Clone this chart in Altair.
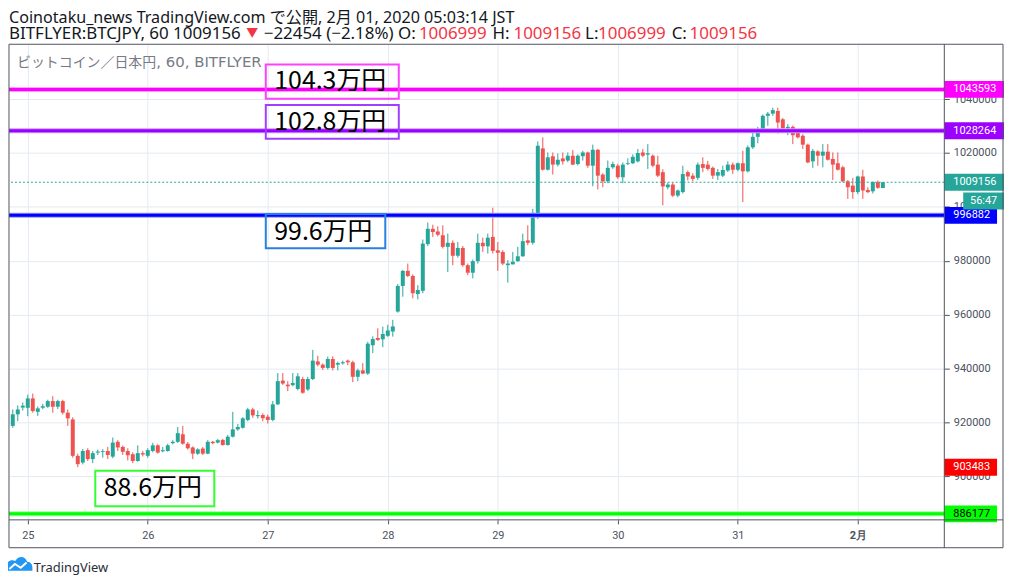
import json
import altair as alt
import pandas as pd

# ---------------- data ----------------
first_bar = -3  # bar index of the first candle (Jan 24 21:00)
opens = [918800, 923100, 925600, 925500, 929000, 924000, 925500, 925900, 928000, 925900, 928000, 923700, 921200, 907700, 905200, 909800, 906500, 908900, 909200, 909500, 907400, 912900, 911000, 909500, 908300, 905800, 908700, 907700, 909500, 911600, 909400, 909500, 912400, 912900, 915700, 912200, 910800, 908500, 910400, 908500, 912900, 912600, 913600, 911700, 914800, 917500, 918100, 921000, 924900, 922400, 922800, 922200, 921000, 926800, 935600, 934100, 933900, 932500, 936200, 932300, 936200, 942700, 941500, 940300, 943600, 941500, 942000, 943000, 942400, 937000, 939400, 938200, 948700, 951400, 950900, 952200, 953800, 961200, 970700, 976300, 974400, 967700, 968900, 986200, 991900, 990900, 989500, 985200, 986700, 981900, 984800, 978400, 975600, 979900, 986700, 985400, 988900, 983900, 983300, 978400, 978700, 979900, 981700, 987600, 986700, 997500, 1021700, 1013800, 1018800, 1015700, 1018000, 1017200, 1019000, 1015900, 1018800, 1020200, 1015300, 1021200, 1012000, 1009500, 1014700, 1015300, 1011000, 1015900, 1016200, 1016900, 1020200, 1019400, 1019000, 1015700, 1012900, 1007300, 1008300, 1004200, 1005500, 1012900, 1011600, 1010800, 1015900, 1015700, 1014500, 1011600, 1011600, 1013500, 1015700, 1013800, 1016200, 1013200, 1022100, 1026000, 1028200, 1033800, 1034600, 1035600, 1032500, 1029200, 1029700, 1027600, 1026400, 1023100, 1016900, 1020600, 1019000, 1020500, 1017800, 1016200, 1014700, 1009500, 1007900, 1005500, 1011300, 1006300, 1005800, 1009200, 1006999]
highs = [924900, 926400, 927500, 930400, 930800, 926000, 927000, 928500, 929800, 928500, 928500, 924900, 922000, 908500, 910200, 910500, 909500, 910000, 910200, 911000, 914500, 913500, 911500, 910500, 909000, 911600, 909500, 910500, 912500, 912000, 911000, 912200, 913500, 918400, 918800, 912800, 911200, 910500, 911000, 913500, 913200, 914000, 914000, 915500, 924000, 919500, 922000, 925500, 925500, 924500, 923500, 923000, 928000, 938400, 938400, 935400, 938400, 938400, 937000, 937000, 947000, 944800, 942000, 944500, 944600, 942700, 943000, 943400, 943000, 940000, 942100, 950000, 952000, 955000, 955600, 956300, 958100, 971400, 976600, 979000, 975000, 971000, 987900, 994200, 993400, 992800, 993200, 990100, 987600, 987000, 985500, 979000, 980500, 990100, 988600, 990100, 999700, 987000, 984000, 980300, 983300, 985200, 990100, 993200, 999300, 1024300, 1025800, 1020200, 1020200, 1019800, 1020200, 1020200, 1021100, 1019500, 1020800, 1020500, 1023100, 1021500, 1012500, 1017200, 1016800, 1016000, 1016500, 1018000, 1019500, 1021500, 1021500, 1023300, 1019500, 1019000, 1014000, 1009000, 1009000, 1006500, 1015300, 1013500, 1012500, 1016500, 1018400, 1017100, 1015000, 1014100, 1015300, 1016900, 1016500, 1016500, 1020800, 1022800, 1028000, 1029700, 1034300, 1035200, 1036800, 1036800, 1033000, 1030700, 1030200, 1028000, 1027000, 1023500, 1021500, 1021000, 1023300, 1023300, 1020200, 1020200, 1015300, 1010000, 1010800, 1011600, 1013800, 1007300, 1009500, 1009800, 1009156]
lows = [918100, 920600, 924500, 922400, 923700, 922500, 925000, 925500, 923700, 925000, 923000, 918800, 907000, 903483, 904500, 905800, 905000, 908000, 907000, 906500, 906800, 909500, 908000, 906000, 905000, 905500, 907500, 907000, 909000, 908500, 909000, 909200, 912000, 912500, 911800, 910000, 906500, 908000, 908000, 908300, 912000, 912300, 911500, 911500, 914500, 917000, 917800, 920500, 921800, 921500, 920500, 919700, 920500, 926500, 934000, 931700, 933500, 932000, 930700, 931800, 935800, 940900, 939500, 939700, 939400, 939400, 941500, 941300, 935000, 935400, 938000, 937700, 945800, 950300, 948000, 951800, 951900, 960800, 966700, 974000, 966100, 965700, 968000, 985500, 988900, 989100, 984600, 975900, 978400, 981200, 977800, 974700, 973500, 979000, 983300, 982700, 982700, 976300, 978400, 971900, 978700, 979600, 981500, 985800, 986000, 995500, 1013500, 1013500, 1012000, 1015000, 1015700, 1016600, 1015500, 1015400, 1017200, 1014500, 1007700, 1006500, 1007300, 1008800, 1014100, 1010400, 1008800, 1015500, 1015900, 1016500, 1018400, 1014100, 1014700, 1011000, 1000600, 1006500, 1003700, 1003600, 1005000, 1009800, 1009500, 1010000, 1012900, 1013500, 1010400, 1010000, 1011000, 1013000, 1012200, 1013200, 1001800, 1012800, 1021500, 1023600, 1027500, 1030100, 1033800, 1027200, 1028500, 1026600, 1023300, 1025400, 1021500, 1016200, 1014500, 1015300, 1014700, 1017200, 1010000, 1013500, 1009200, 1003000, 1003000, 1004700, 1003000, 1005100, 1005000, 1006700, 1006999]
closes = [923100, 924900, 926300, 929000, 924300, 925300, 926100, 928000, 925900, 928000, 923700, 921600, 907700, 904600, 909500, 906500, 908700, 909300, 909500, 908000, 912600, 910800, 909200, 907900, 905800, 908700, 908200, 909800, 911600, 908900, 909800, 911600, 912900, 916100, 912200, 910500, 908500, 910100, 908500, 912900, 912400, 913500, 911700, 914800, 917500, 918400, 921600, 924900, 922700, 922800, 921600, 921000, 926800, 935400, 934500, 933500, 934700, 937200, 931100, 936200, 943000, 941500, 940300, 943600, 940300, 942100, 942400, 942400, 937000, 939400, 938200, 949300, 951000, 950700, 952900, 954200, 955700, 970700, 976300, 974400, 968000, 969200, 986400, 991900, 990700, 989700, 985200, 986700, 981900, 984800, 978400, 975600, 979900, 986700, 985400, 988600, 983700, 983000, 979000, 979000, 979700, 981700, 987300, 986700, 997800, 1022700, 1013800, 1018400, 1015700, 1017500, 1016900, 1019000, 1015700, 1019000, 1020200, 1015300, 1021200, 1011600, 1009500, 1014500, 1015900, 1011000, 1015700, 1016200, 1018600, 1020000, 1019000, 1019900, 1015300, 1011600, 1007600, 1008300, 1004200, 1006100, 1012200, 1011300, 1010400, 1015700, 1014500, 1014100, 1011600, 1012900, 1013700, 1015700, 1013800, 1016200, 1013200, 1022100, 1026000, 1028200, 1033800, 1034600, 1035900, 1031300, 1029200, 1029700, 1026600, 1025800, 1023100, 1016500, 1020800, 1019000, 1020500, 1017500, 1015700, 1013800, 1009500, 1007300, 1005500, 1011300, 1006100, 1005500, 1009200, 1007100, 1009156]

day_positions = [0, 24, 48, 72, 94, 118, 142, 166]
day_labels = ["25", "26", "27", "28", "29", "30", "31", "2月"]
price_ticks = [900000, 920000, 940000, 960000, 980000, 1000000, 1020000, 1040000]

level_prices = [1043593, 1028264, 996882, 886177]
level_colors = ["#ff00ff", "#9900ff", "#0000ff", "#00ff00"]
level_halos = ["#ffa0ff", "#cc99ff", "#9999ff", "#99ff99"]

last_price = 1009156
countdown = "56:47"

price_tags = ["1043593", "1028264", "1009156", "996882", "903483", "886177"]
tag_prices = [1043593, 1028264, 1009156, 996882, 903483, 886177]
tag_fill = ["#ff00ff", "#9c00ff", "#26a69a", "#0000ff", "#ff0000", "#00ff00"]
tag_text = ["white", "white", "white", "white", "white", "black"]
tag_wide = [True, True, True, False, False, False]

note_texts = ["104.3万円", "102.8万円", "99.6万円", "88.6万円"]
note_x0 = [47.6, 47.6, 47.6, 13.5]
note_x1 = [74.2, 74.2, 71.5, 37.3]
note_top = [1052840, 1037820, 997420, 902140]
note_bot = [1040150, 1025280, 984690, 889000]
note_tx = [49.3, 49.3, 49.3, 15.2]
note_ty = [1043620, 1028600, 987900, 892920]
note_colors = ["#ff40ff", "#a040ff", "#2b7fe0", "#33ff33"]

GREEN = "#26a69a"
RED = "#ef5350"
FONT = "Noto Sans, Noto Sans CJK JP, sans-serif"
CJK = "Noto Sans CJK JP"
W, H = 940, 478

X_DOMAIN = [-2.76, 182.3]
Y_DOMAIN = [883948, 1060332]

# ---------------- tables ----------------
n = len(opens)
bars = pd.DataFrame({
    "i": list(range(first_bar, first_bar + n)),
    "open": opens, "high": highs, "low": lows, "close": closes,
})
bars["dir"] = ["up" if c >= o else "down" for o, c in zip(opens, closes)]

xs = alt.Scale(domain=X_DOMAIN, nice=False, zero=False)
ys = alt.Scale(domain=Y_DOMAIN, nice=False, zero=False)
col = alt.Color("dir:N", scale=alt.Scale(domain=["up", "down"], range=[GREEN, RED]), legend=None)

label_expr = f"{json.dumps(day_labels, ensure_ascii=False)}[indexof({json.dumps(day_positions)}, datum.value)]"

x_axis = alt.Axis(
    values=day_positions, labelExpr=label_expr, title=None, grid=True,
    gridColor="#e3eaf0", domain=False, tickColor="#50535e", tickSize=4,
    labelColor="#4c525e", labelFont="Roboto", labelFontSize=11, labelPadding=6,
    labelFontWeight={"condition": {"test": "datum.value == 166", "value": "bold"}, "value": "normal"},
)
y_axis = alt.Axis(
    orient="right", values=price_ticks, format="d", title=None, grid=True,
    gridColor="#e3eaf0", domain=False, tickColor="#50535e", tickSize=5,
    labelColor="#4c525e", labelFont="Roboto", labelFontSize=11, labelPadding=4,
)

base = alt.Chart(bars)
wicks = base.mark_rule(strokeWidth=1).encode(
    x=alt.X("i:Q", scale=xs, axis=x_axis),
    y=alt.Y("low:Q", scale=ys, axis=y_axis),
    y2="high:Q",
    color=col,
)
bodies = base.mark_bar(size=4).encode(
    x=alt.X("i:Q", scale=xs),
    y=alt.Y("open:Q", scale=ys),
    y2="close:Q",
    color=col,
)

levels = pd.DataFrame({"p": level_prices, "c": level_colors, "h": level_halos})
halo = alt.Chart(levels).mark_rule(strokeWidth=5).encode(
    y=alt.Y("p:Q", scale=ys), color=alt.Color("h:N", scale=None))
core = alt.Chart(levels).mark_rule(strokeWidth=3).encode(
    y=alt.Y("p:Q", scale=ys), color=alt.Color("c:N", scale=None))

last_line = alt.Chart(pd.DataFrame({"p": [last_price]})).mark_rule(
    strokeWidth=1, strokeDash=[2, 2], color=GREEN).encode(y=alt.Y("p:Q", scale=ys))

notes = pd.DataFrame({
    "t": note_texts, "x0": note_x0, "x1": note_x1, "top": note_top, "bot": note_bot,
    "tx": note_tx, "ty": note_ty, "c": note_colors,
})
note_boxes = alt.Chart(notes).mark_rect(fillOpacity=0, strokeWidth=2).encode(
    x=alt.X("x0:Q", scale=xs), x2="x1:Q",
    y=alt.Y("top:Q", scale=ys), y2="bot:Q",
    stroke=alt.Color("c:N", scale=None),
)
note_text = alt.Chart(notes).mark_text(
    align="left", baseline="alphabetic", fontSize=25, font=CJK, color="black").encode(
    x=alt.X("tx:Q", scale=xs), y=alt.Y("ty:Q", scale=ys), text="t:N")

tags = pd.DataFrame({"t": price_tags, "p": tag_prices, "f": tag_fill, "tc": tag_text, "wide": tag_wide})
tag_base = alt.Chart(tags).transform_calculate(top="datum.p + 3130", bot="datum.p - 3130")
tag_wide_boxes = tag_base.transform_filter("datum.wide").mark_rect().encode(
    x=alt.value(W), x2=alt.value(W + 60),
    y=alt.Y("top:Q", scale=ys), y2="bot:Q", fill=alt.Color("f:N", scale=None))
tag_narrow_boxes = tag_base.transform_filter("!datum.wide").mark_rect().encode(
    x=alt.value(W), x2=alt.value(W + 53),
    y=alt.Y("top:Q", scale=ys), y2="bot:Q", fill=alt.Color("f:N", scale=None))
tag_labels = alt.Chart(tags).mark_text(
    align="left", baseline="middle", fontSize=11, font="Roboto").encode(
    x=alt.value(W + 9), y=alt.Y("p:Q", scale=ys), text="t:N",
    color=alt.Color("tc:N", scale=None))

one = pd.DataFrame({"t": [countdown]})
cd_box = alt.Chart(one).mark_rect(color=GREEN).encode(
    x=alt.value(W + 19), x2=alt.value(W + 60), y=alt.value(149), y2=alt.value(166))
cd_text = alt.Chart(one).mark_text(
    align="center", baseline="middle", fontSize=11, font="Roboto", color="white").encode(
    x=alt.value(W + 39.5), y=alt.value(157.5), text="t:N")

# frame of the price pane and of the axis strips
frame = pd.DataFrame({
    "x": [0, 0, 0, 0, W + 59, W],
    "x2": [W + 59, W + 59, W + 59, 0, W + 59, W],
    "y": [0, H, H + 28, 0, 0, 0],
    "y2": [0, H, H + 28, H + 28, H + 28, H + 28],
})
frame_lines = alt.Chart(frame).mark_rule(color="#50535e", strokeWidth=1).encode(
    x=alt.X("x:Q", scale=None), x2="x2:Q", y=alt.Y("y:Q", scale=None), y2="y2:Q")


def txt(s, x, y, size=16, color="#131722", font=FONT, weight="normal", align="left"):
    return alt.Chart(pd.DataFrame({"t": [s]})).mark_text(
        align=align, baseline="alphabetic", fontSize=size, font=font,
        color=color, fontWeight=weight).encode(
        x=alt.value(x), y=alt.value(y), text="t:N")


header = [
    txt("Coinotaku_news TradingView.com で公開, 2月 01, 2020 05:03:14 JST", 0, -21, size=16.2),
    txt("BITFLYER:BTCJPY, 60 1009156", 0, -5.5, size=17),
    txt("▼", 238.5, -7.5, size=12, color="#f23645"),
    txt("−22454 (−2.18%) O:", 256, -5.5, size=17),
    txt("1006999", 412, -5.5, size=17, color="#f23645"),
    txt("H:", 486, -5.5, size=17),
    txt("1009156", 507, -5.5, size=17, color="#f23645"),
    txt("L:", 579, -5.5, size=17),
    txt("1006999", 592, -5.5, size=17, color="#f23645"),
    txt("C:", 666, -5.5, size=17),
    txt("1009156", 684, -5.5, size=17, color="#f23645"),
    txt("ビットコイン／日本円", 8, 23, size=14, color="#787b86", font=CJK),
    txt(", 60, BITFLYER", 148, 23, size=15, color="#787b86", font="DejaVu Sans"),
    txt("TradingView", 25, 530, size=13, color="#2a2e39"),
]

logo_df = pd.DataFrame({"t": ["logo"]})
cloud = alt.Chart(logo_df).mark_point(
    shape="M-1,0.55L-1,0.2C-1,-0.2-0.6,-0.35-0.32,-0.2C-0.15,-0.62 0.45,-0.66 0.6,-0.15C0.9,-0.15 1,0.1 1,0.3L1,0.55Z",
    filled=True, fill="#2196f3", size=676, opacity=1).encode(
    x=alt.value(10.5), y=alt.value(522))
zig = alt.Chart(logo_df).mark_point(
    shape="M-0.78,0.42L-0.35,0.02L0.1,0.32L0.55,-0.08",
    filled=False, stroke="white", strokeWidth=2, size=676, opacity=1).encode(
    x=alt.value(10.5), y=alt.value(522))

chart = alt.layer(
    wicks, bodies, last_line, halo, core, note_boxes, note_text,
    tag_wide_boxes, tag_narrow_boxes, tag_labels, cd_box, cd_text,
    frame_lines, cloud, zig, *header,
).properties(
    width=W, height=H,
    padding={"left": 1, "top": 35, "right": 62, "bottom": 60},
    autosize=alt.AutoSizeParams(type="none"),
    background="white",
).configure_view(stroke=None)

chart.save("out.html", embed_options={"renderer": "svg", "actions": False})
